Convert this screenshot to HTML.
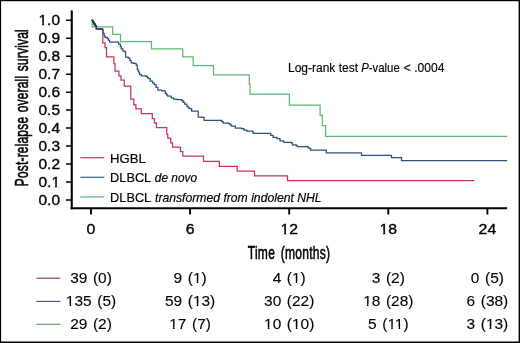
<!DOCTYPE html>
<html><head><meta charset="utf-8"><style>
html,body{margin:0;padding:0;background:#fff;}
body{width:520px;height:343px;overflow:hidden;}
svg{display:block;will-change:transform;font-family:"Liberation Sans",sans-serif;fill:#000;}
</style></head><body>
<svg width="520" height="343" viewBox="0 0 520 343">
<rect x="0" y="0" width="520" height="1.2" fill="#000"/>
<rect x="0" y="0" width="1.1" height="343" fill="#000"/>
<rect x="518.6" y="0" width="1.4" height="343" fill="#000"/>
<rect x="0" y="341.5" width="520" height="1.5" fill="#000"/>
<path d="M71.75,10.4 V209.3" stroke="#000" stroke-width="2.1" fill="none"/>
<path d="M70.7,208.3 H507.1" stroke="#000" stroke-width="2.1" fill="none"/>
<path d="M66,199.90 H71M66,181.94 H71M66,163.98 H71M66,146.02 H71M66,128.06 H71M66,110.10 H71M66,92.14 H71M66,74.18 H71M66,56.22 H71M66,38.26 H71M66,20.30 H71" stroke="#000" stroke-width="1.5" fill="none"/>
<path d="M91.00,209 V214.5M190.10,209 V214.5M289.20,209 V214.5M388.30,209 V214.5M487.40,209 V214.5" stroke="#000" stroke-width="1.9" fill="none"/>
<path d="M91.5,20.3  H92.70 V22.10 H93.90 V23.90 H95.10 V25.70 H96.30 V27.50 V28.8 H102.8 V42.9 H105 V47.5 H106.5 V56.8 H113.9 V63.5 H115 V71 H118.9 V75.8 H121 V80.2 H124.3 V86 H130.8 V99.2 H133.8 V104.8 H135.9 V108.9 H141.3 V113.7 H152.3 V118.6 H154.5 V123.1 H156.5 V127.7 H166.8 V134.4 H167.8 V138 H170.7 V142.8 H172.5 V147.2 H180.4 V151.7 H182.8 V156.1 H203.5 V161.3 H219.4 V166.4 H237.2 V171.2 H254.5 V175.9 H287.5 V180.7 H474.3" stroke="#c8345a" stroke-width="1.25" fill="none" stroke-linejoin="miter"/>
<path d="M91.5,20.3 H92.2 V26.9 H112.7 V34.3 H120.5 V41.7 H151.5 V48.8 H182.7 V56.9 H193.2 V65.7 H213.5 V74.9 H249.3 V84.4 H250 V94.2 H289.4 V105 H320.1 V115.4 H322.3 V125.6 H325.6 V136.4 H507.2" stroke="#5eb873" stroke-width="1.25" fill="none" stroke-linejoin="miter"/>
<path d="M91.50,20.30 H92.70 V22.10 H93.90 V23.90 H95.10 V25.70 H96.30 V27.50 H96.50 V28.80 H102.30 V29.70 H103.10 V33.50 H104.20 V35.80 H105.00 V37.30 H107.30 V38.50 H108.50 V40.40 H109.60 V42.00 H116.80 V42.00 H118.60 V44.10 H120.30 V46.30 H121.20 V48.90 H122.90 V51.10 H125.10 V52.00 H125.60 V57.20 H128.20 V58.10 H129.90 V60.70 H131.20 V62.90 H133.40 V63.40 H136.10 V65.10 H137.30 V69.30 H138.10 V71.07 H138.90 V72.83 H139.70 V74.60 H141.40 V75.80 H146.10 V76.30 H147.25 V77.50 H148.40 V78.70 H150.20 V81.00 H152.50 V82.80 H154.30 V84.50 H156.00 V87.40 H157.80 V90.10 H161.80 V90.90 H165.30 V93.30 H166.50 V94.75 H167.70 V96.20 H171.20 V97.90 H173.50 V99.10 H177.00 V99.60 H181.70 V100.70 H183.15 V102.35 H184.60 V104.00 H186.90 V106.30 H188.10 V107.50 H189.30 V108.70 H191.60 V111.00 H198.00 V111.00 H198.20 V117.10 H202.10 V117.40 H204.10 V120.30 H220.20 V120.30 H221.65 V121.70 H223.10 V123.10 H228.50 V123.50 H230.00 V124.85 H231.50 V126.20 H235.40 V128.20 H241.50 V128.50 H243.80 V130.00 H246.90 V131.20 H252.30 V131.50 H253.10 V133.40 H268.50 V133.40 H270.80 V135.40 H273.10 V137.40 H276.90 V138.50 H280.00 V140.80 H283.80 V142.30 H291.30 V142.80 H292.50 V144.80 H296.00 V145.40 H297.10 V146.50 H306.90 V146.50 H308.10 V147.90 H309.80 V148.60 H310.60 V150.00 H325.40 V150.00 H326.30 V152.90 H361.20 V152.90 H361.50 V155.30 H391.20 V155.30 H391.50 V157.70 H401.30 V157.70 H401.50 V160.60 H507.10 V160.60" stroke="#2e5278" stroke-width="1.25" fill="none" stroke-linejoin="miter"/>
<path d="M91.50,20.30 H92.70 V22.10 H93.90 V23.90 H95.10 V25.70 H96.30 V27.50" stroke="#1d3b33" stroke-width="1.35" fill="none"/>
<path d="M96.3,27.5 V28.9 H102.6" stroke="#4b2f5c" stroke-width="1.3" fill="none"/>
<text transform="translate(60.00,204.50) scale(1.0600,1)" font-size="14.60" text-anchor="end" stroke="#000" stroke-width="0.35">0.0</text>
<text transform="translate(60.00,186.54) scale(1.0600,1)" font-size="14.60" text-anchor="end" stroke="#000" stroke-width="0.35">0.1</text>
<text transform="translate(60.00,168.58) scale(1.0600,1)" font-size="14.60" text-anchor="end" stroke="#000" stroke-width="0.35">0.2</text>
<text transform="translate(60.00,150.62) scale(1.0600,1)" font-size="14.60" text-anchor="end" stroke="#000" stroke-width="0.35">0.3</text>
<text transform="translate(60.00,132.66) scale(1.0600,1)" font-size="14.60" text-anchor="end" stroke="#000" stroke-width="0.35">0.4</text>
<text transform="translate(60.00,114.70) scale(1.0600,1)" font-size="14.60" text-anchor="end" stroke="#000" stroke-width="0.35">0.5</text>
<text transform="translate(60.00,96.74) scale(1.0600,1)" font-size="14.60" text-anchor="end" stroke="#000" stroke-width="0.35">0.6</text>
<text transform="translate(60.00,78.78) scale(1.0600,1)" font-size="14.60" text-anchor="end" stroke="#000" stroke-width="0.35">0.7</text>
<text transform="translate(60.00,60.82) scale(1.0600,1)" font-size="14.60" text-anchor="end" stroke="#000" stroke-width="0.35">0.8</text>
<text transform="translate(60.00,42.86) scale(1.0600,1)" font-size="14.60" text-anchor="end" stroke="#000" stroke-width="0.35">0.9</text>
<text transform="translate(60.00,24.90) scale(1.0600,1)" font-size="14.60" text-anchor="end" stroke="#000" stroke-width="0.35">1.0</text>
<text transform="translate(91.00,233.70) scale(1.0850,1)" font-size="14.60" text-anchor="middle" stroke="#000" stroke-width="0.35">0</text>
<text transform="translate(190.10,233.70) scale(1.0850,1)" font-size="14.60" text-anchor="middle" stroke="#000" stroke-width="0.35">6</text>
<text transform="translate(289.20,233.70) scale(1.0850,1)" font-size="14.60" text-anchor="middle" stroke="#000" stroke-width="0.35">12</text>
<text transform="translate(388.30,233.70) scale(1.0850,1)" font-size="14.60" text-anchor="middle" stroke="#000" stroke-width="0.35">18</text>
<text transform="translate(487.40,233.70) scale(1.0850,1)" font-size="14.60" text-anchor="middle" stroke="#000" stroke-width="0.35">24</text>
<text transform="translate(27.80,186.20) rotate(-90) scale(0.6300,1)" font-size="19.00" letter-spacing="0.306" word-spacing="1.6" stroke="#000" stroke-width="0.60">Post-relapse overall survival</text>
<text transform="translate(247.70,259.30) scale(0.6540,1)" font-size="18.40" letter-spacing="0.43" word-spacing="3.03" stroke="#000" stroke-width="0.60">Time (months)</text>
<text transform="translate(288.00,71.60)" font-size="12.00" stroke="#000" stroke-width="0.15">Log-rank test</text>
<text transform="translate(361.16,71.60) scale(0.9500,1)" font-size="12.00" stroke="#000" stroke-width="0.15"><tspan font-style="italic">P</tspan>-value</text>
<text transform="translate(403.80,71.60) scale(1.0100,1)" font-size="12.00" stroke="#000" stroke-width="0.15">&lt; .0004</text>
<path d="M80.3,157.70 H104.2" stroke="#ad3f60" stroke-width="1.2"/>
<path d="M80.3,177.30 H104.2" stroke="#3c6089" stroke-width="1.2"/>
<path d="M80.3,196.90 H104.2" stroke="#5fb577" stroke-width="1.2"/>
<text transform="translate(110.10,162.50) scale(1.0300,1)" font-size="12.75" stroke="#000" stroke-width="0.20">HGBL</text>
<text transform="translate(110.10,182.00)" font-size="12.75" stroke="#000" stroke-width="0.20">DLBCL</text>
<text transform="translate(110.10,201.50)" font-size="12.75" stroke="#000" stroke-width="0.20">DLBCL</text>
<text transform="translate(154.84,182.00) scale(0.9300,1)" font-size="12.75" font-style="italic" stroke="#000" stroke-width="0.20">de novo</text>
<text transform="translate(154.99,201.50) scale(0.9560,1)" font-size="12.75" font-style="italic" stroke="#000" stroke-width="0.20">transformed from indolent NHL</text>
<path d="M36.4,278.20 H60.4" stroke="#922f4c" stroke-width="1.1"/>
<text transform="translate(91.00,283.20) scale(1.0600,1)" font-size="14.60" text-anchor="middle" word-spacing="1.25" stroke="#000" stroke-width="0.12">39 (0)</text>
<text transform="translate(190.10,283.20) scale(1.0600,1)" font-size="14.60" text-anchor="middle" word-spacing="1.25" stroke="#000" stroke-width="0.12">9 (1)</text>
<text transform="translate(289.20,283.20) scale(1.0600,1)" font-size="14.60" text-anchor="middle" word-spacing="1.25" stroke="#000" stroke-width="0.12">4 (1)</text>
<text transform="translate(388.30,283.20) scale(1.0600,1)" font-size="14.60" text-anchor="middle" word-spacing="1.25" stroke="#000" stroke-width="0.12">3 (2)</text>
<text transform="translate(487.40,283.20) scale(1.0600,1)" font-size="14.60" text-anchor="middle" word-spacing="1.25" stroke="#000" stroke-width="0.12">0 (5)</text>
<path d="M36.4,301.40 H60.4" stroke="#34527a" stroke-width="1.1"/>
<text transform="translate(91.00,306.10) scale(1.0600,1)" font-size="14.60" text-anchor="middle" word-spacing="1.25" stroke="#000" stroke-width="0.12">135 (5)</text>
<text transform="translate(190.10,306.10) scale(1.0600,1)" font-size="14.60" text-anchor="middle" word-spacing="1.25" stroke="#000" stroke-width="0.12">59 (13)</text>
<text transform="translate(289.20,306.10) scale(1.0600,1)" font-size="14.60" text-anchor="middle" word-spacing="1.25" stroke="#000" stroke-width="0.12">30 (22)</text>
<text transform="translate(388.30,306.10) scale(1.0600,1)" font-size="14.60" text-anchor="middle" word-spacing="1.25" stroke="#000" stroke-width="0.12">18 (28)</text>
<text transform="translate(487.40,306.10) scale(1.0600,1)" font-size="14.60" text-anchor="middle" word-spacing="1.25" stroke="#000" stroke-width="0.12">6 (38)</text>
<path d="M36.4,324.30 H60.4" stroke="#4f9a66" stroke-width="1.1"/>
<text transform="translate(91.00,329.10) scale(1.0600,1)" font-size="14.60" text-anchor="middle" word-spacing="1.25" stroke="#000" stroke-width="0.12">29 (2)</text>
<text transform="translate(190.10,329.10) scale(1.0600,1)" font-size="14.60" text-anchor="middle" word-spacing="1.25" stroke="#000" stroke-width="0.12">17 (7)</text>
<text transform="translate(289.20,329.10) scale(1.0600,1)" font-size="14.60" text-anchor="middle" word-spacing="1.25" stroke="#000" stroke-width="0.12">10 (10)</text>
<text transform="translate(388.30,329.10) scale(1.0600,1)" font-size="14.60" text-anchor="middle" word-spacing="1.25" stroke="#000" stroke-width="0.12">5 (11)</text>
<text transform="translate(487.40,329.10) scale(1.0600,1)" font-size="14.60" text-anchor="middle" word-spacing="1.25" stroke="#000" stroke-width="0.12">3 (13)</text>
<g fill="#fff"><rect x="51.58" y="184.07" width="3.46" height="3.44"/><rect x="56.88" y="184.07" width="2.99" height="3.44"/><rect x="38.69" y="22.43" width="3.46" height="3.44"/><rect x="43.99" y="22.43" width="2.99" height="3.44"/><rect x="280.61" y="231.23" width="3.53" height="3.44"/><rect x="286.02" y="231.23" width="3.05" height="3.44"/><rect x="379.71" y="231.23" width="3.53" height="3.44"/><rect x="385.12" y="231.23" width="3.05" height="3.44"/><rect x="193.22" y="280.85" width="3.46" height="3.21"/><rect x="198.28" y="280.85" width="2.99" height="3.21"/><rect x="292.32" y="280.85" width="3.46" height="3.21"/><rect x="297.38" y="280.85" width="2.99" height="3.21"/><rect x="66.15" y="303.75" width="3.46" height="3.21"/><rect x="71.21" y="303.75" width="2.99" height="3.21"/><rect x="193.22" y="303.75" width="3.46" height="3.21"/><rect x="198.28" y="303.75" width="2.99" height="3.21"/><rect x="363.45" y="303.75" width="3.46" height="3.21"/><rect x="368.51" y="303.75" width="2.99" height="3.21"/><rect x="169.55" y="326.75" width="3.46" height="3.21"/><rect x="174.61" y="326.75" width="2.99" height="3.21"/><rect x="264.35" y="326.75" width="3.46" height="3.21"/><rect x="269.41" y="326.75" width="2.99" height="3.21"/><rect x="292.32" y="326.75" width="3.46" height="3.21"/><rect x="297.38" y="326.75" width="2.99" height="3.21"/><rect x="387.69" y="326.75" width="3.46" height="3.21"/><rect x="392.75" y="326.75" width="2.99" height="3.21"/><rect x="395.13" y="326.75" width="3.46" height="3.21"/><rect x="400.19" y="326.75" width="2.99" height="3.21"/><rect x="486.22" y="326.75" width="3.46" height="3.21"/><rect x="491.28" y="326.75" width="2.99" height="3.21"/></g>
</svg>
</body></html>
